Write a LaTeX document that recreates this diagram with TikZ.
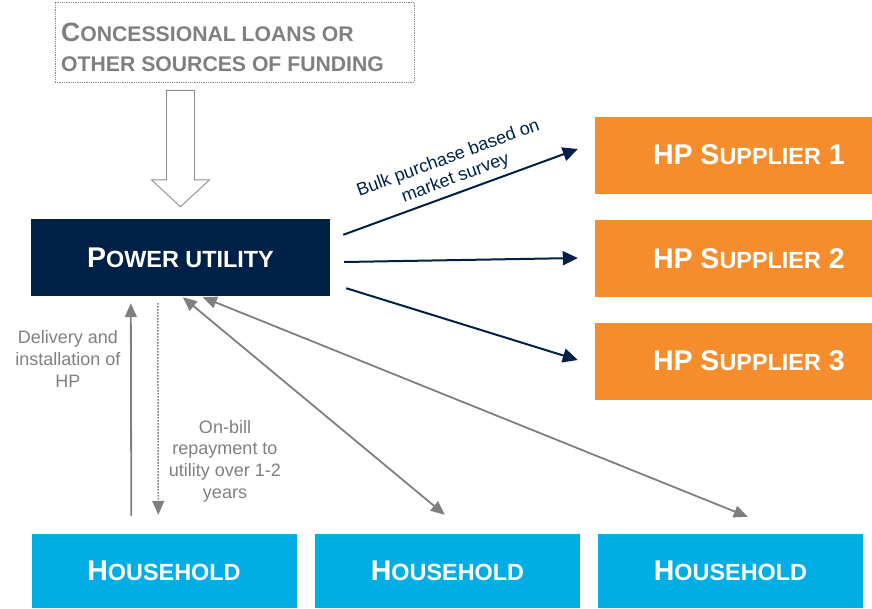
\documentclass[tikz,border=0pt]{standalone}
\usepackage{fontspec}
\setmainfont{Liberation Sans}
\usetikzlibrary{arrows.meta,calc}

\definecolor{navy}{HTML}{002147}
\definecolor{hporange}{HTML}{F58D2C}
\definecolor{hhblue}{HTML}{00AEE5}
\definecolor{softgray}{HTML}{7F7F7F}
\definecolor{edgegray}{HTML}{8C8C8C}

% fake small caps: lower-case part set as capitals at a smaller size
\newcommand\lowcaps[2]{{\fontsize{#1}{#1}\selectfont #2}}

\begin{document}
\begin{tikzpicture}[x=1pt,y=-1pt,
  boxbase/.style={inner sep=0pt, minimum height=77pt, text=white,
    font=\bfseries\fontsize{28.5}{34}\selectfont},
  utilitybox/.style={boxbase, fill=navy, minimum width=299pt},
  supplierbox/.style={boxbase, fill=hporange, minimum width=277pt},
  householdbox/.style={boxbase, fill=hhblue, minimum width=265pt, minimum height=74pt},
  fundbox/.style={draw=edgegray, densely dotted, line width=0.8pt, inner sep=0pt,
    minimum width=359pt, minimum height=80pt, text width=345pt, align=left,
    text=softgray, font=\bfseries\fontsize{26.5}{30}\selectfont},
  hollowarrow/.style={draw=edgegray, fill=white, line width=0.9pt, line join=miter},
  buyarrow/.style={draw=navy, line width=2pt, -{Triangle[length=15pt,width=14pt]}},
  flowarrow/.style={draw=softgray, line width=1.8pt, -{Triangle[length=14pt,width=12pt]}},
  twoway/.style={draw=softgray, line width=1.8pt,
    {Triangle[length=14pt,width=12pt]}-{Triangle[length=14pt,width=12pt]}},
  payarrow/.style={draw=softgray, line width=1.5pt, dash pattern=on 1.5pt off 1.5pt,
    -{Triangle[length=14pt,width=12pt]}},
  note/.style={text=softgray, align=center, font=\fontsize{18}{21.7}\selectfont},
  buynote/.style={text=navy, align=center, inner sep=1pt,
    font=\fontsize{18}{21}\selectfont}
]
\useasboundingbox (0,0) rectangle (872,608);

% funding source
\node[fundbox] (fund) at (234.5,42) {};
\node[text=softgray, font=\bfseries\fontsize{26.5}{30}\selectfont, align=left,
  anchor=west, inner sep=0pt] (fundtext) at (61,47)
  {C\lowcaps{21.2}{ONCESSIONAL LOANS OR}\\ \lowcaps{21.2}{OTHER SOURCES OF FUNDING}};

% power utility
\node[utilitybox] (pu) at (180.5,257.5) {P\lowcaps{23.4}{OWER UTILITY}};

% suppliers
\node[supplierbox] (s1) at (733.5,155)
  {\makebox[277pt][l]{\hspace{58pt}HP S\lowcaps{23.4}{UPPLIER} 1}};
\node[supplierbox] (s2) at (733.5,258.5)
  {\makebox[277pt][l]{\hspace{58pt}HP S\lowcaps{23.4}{UPPLIER} 2}};
\node[supplierbox] (s3) at (733.5,361)
  {\makebox[277pt][l]{\hspace{58pt}HP S\lowcaps{23.4}{UPPLIER} 3}};

% households
\node[householdbox] (h1) at (164,571) {H\lowcaps{23.4}{OUSEHOLD}};
\node[householdbox] (h2) at (447.5,571) {H\lowcaps{23.4}{OUSEHOLD}};
\node[householdbox] (h3) at (730.5,571) {H\lowcaps{23.4}{OUSEHOLD}};

% hollow funding arrow
\coordinate (hatop) at ($(pu.north |- fund.south)+(0,8)$);
\coordinate (hatip) at ($(pu.north)+(0,-12)$);
\draw[hollowarrow] ($(hatop)+(-14,0)$) -- ($(hatop)+(14,0)$)
  -- ($(hatip)+(14,-27)$) -- ($(hatip)+(29,-27)$) -- (hatip)
  -- ($(hatip)+(-29,-27)$) -- ($(hatip)+(-14,-27)$) -- cycle;

% purchases from suppliers
\coordinate (b1s) at ($(pu.north east)+(13,16)$);
\coordinate (b2s) at ($(pu.east)+(14,4.5)$);
\coordinate (b3s) at ($(pu.south east)+(16,-8)$);
\coordinate (b1e) at ($(s1.west)+(-17,-6)$);
\coordinate (b2e) at ($(s2.west)+(-17,-0.5)$);
\coordinate (b3e) at ($(s3.west)+(-17,-1)$);
\draw[buyarrow] (b1s) -- node[midway, above=4pt, sloped, buynote]
  {Bulk purchase based on\\market survey} (b1e);
\draw[buyarrow] (b2s) -- (b2e);
\draw[buyarrow] (b3s) -- (b3e);

% utility <-> households
\coordinate (upfrom) at ($(h1.north west)+(100,-18)$);
\coordinate (upto) at ($(pu.south west)+(100,7)$);
\draw[flowarrow] (upfrom) -- (upto);
\coordinate (payfrom) at ($(pu.south west)+(127,7)$);
\coordinate (payto) at ($(h1.north west)+(127,-19)$);
\draw[payarrow] (payfrom) -- (payto);
\draw[twoway] ($(pu.south west)+(152,1)$) -- ($(h2.north west)+(130,-19)$);
\draw[twoway] ($(pu.south west)+(172,1)$) -- ($(h3.north west)+(150,-17)$);

\node[note] (deliv) at (68,359) {Delivery and\\installation of\\HP};
\node[note] (repay) at (225,461) {On-bill\\repayment to\\utility over 1-2\\years};
\end{tikzpicture}
\end{document}
